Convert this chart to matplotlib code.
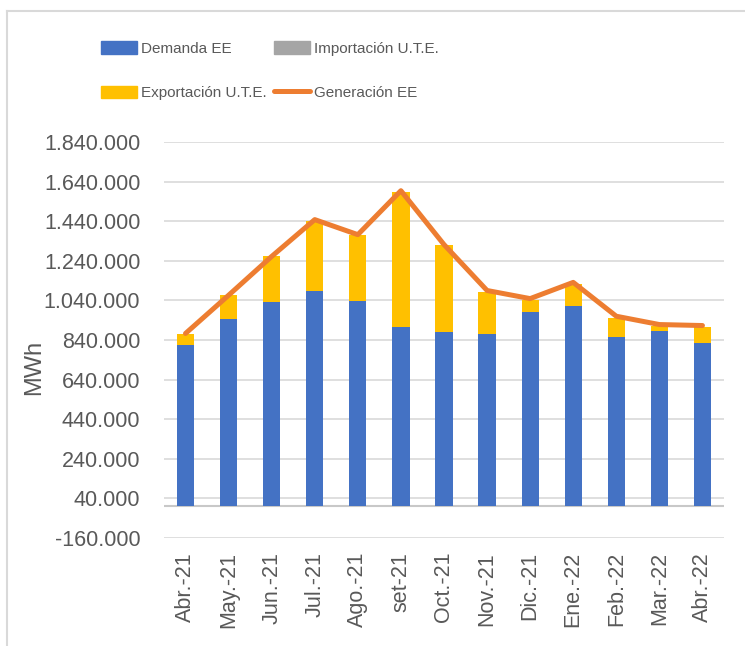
import matplotlib
matplotlib.use("Agg")
import matplotlib.pyplot as plt
from matplotlib.lines import Line2D
from matplotlib.patches import Patch
from matplotlib.ticker import FuncFormatter
import numpy as np

# Monthly energy balance (MWh)
meses = ['Abr.-21', 'May.-21', 'Jun.-21', 'Jul.-21', 'Ago.-21', 'set-21', 'Oct.-21',
         'Nov.-21', 'Dic.-21', 'Ene.-22', 'Feb.-22', 'Mar.-22', 'Abr.-22']
demanda = [817000, 947000, 1030000, 1086000, 1037000, 904000, 879000,
           868000, 980000, 1010000, 854000, 883000, 824000]
importacion = [0, 0, 0, 0, 0, 0, 0, 0, 0, 0, 0, 0, 0]
exportacion = [54000, 119000, 233000, 353000, 332000, 682000, 439000,
               213000, 64000, 113000, 98000, 27000, 82000]
generacion = [873000, 1066000, 1262000, 1448000, 1372000, 1594000, 1322000,
              1090000, 1049000, 1131000, 960000, 918000, 913000]
yticks = [-160000, 40000, 240000, 440000, 640000, 840000, 1040000,
          1240000, 1440000, 1640000, 1840000]

C_DEM = '#4472C4'
C_IMP = '#A5A5A5'
C_EXP = '#FFC000'
C_GEN = '#ED7D31'
TXT = '#595959'
GRID = '#D9D9D9'

fig = plt.figure(figsize=(7.45, 6.46), dpi=100)
ax = fig.add_axes([0.2201, 0.1672, 0.9718 - 0.2201, 0.7802 - 0.1672])

x = np.arange(len(meses))
w = 0.4
ax.bar(x, demanda, w, color=C_DEM, zorder=2)
base = np.array(demanda, dtype=float)
ax.bar(x, importacion, w, bottom=base, color=C_IMP, zorder=2)
base = base + np.array(importacion)
ax.bar(x, exportacion, w, bottom=base, color=C_EXP, zorder=2)
ax.plot(x, generacion, color=C_GEN, lw=3.6, solid_capstyle='round',
        solid_joinstyle='round', zorder=3)

ax.set_xlim(-0.5, len(meses) - 0.5)
ax.set_ylim(-160000, 1840000)
ax.set_yticks(yticks)
ax.yaxis.set_major_formatter(FuncFormatter(lambda v, p: f"{int(v):,}".replace(',', '.')))
ax.grid(axis='y', color=GRID, lw=1.2, zorder=0)
ax.axhline(0, color='#C8C8C8', lw=1.5, zorder=1)
for s in ax.spines.values():
    s.set_visible(False)
ax.set_xticks(x)
ax.set_xticklabels(meses, rotation=90)
ax.tick_params(length=0, labelcolor=TXT, labelsize=15.5)
ax.tick_params(axis='y', pad=17)
ax.tick_params(axis='x', pad=10)
for lab in ax.get_xticklabels() + ax.get_yticklabels():
    lab.set_family('Liberation Sans')
ax.set_ylabel('MWh', fontsize=17, color=TXT, family='Liberation Sans')
ax.yaxis.set_label_coords(-0.2125, 0.43)

handles = [Patch(color=C_DEM), Patch(color=C_EXP), Patch(color=C_IMP),
           Line2D([], [], color=C_GEN, lw=3.6, solid_capstyle='round')]
labels = ['Demanda EE', 'Exportación U.T.E.', 'Importación U.T.E.', 'Generación EE']
fig.legend(handles, labels, ncol=2, loc='upper left', bbox_to_anchor=(0.125, 0.948),
           frameon=False, handlelength=2.35, handleheight=0.9, handletextpad=0.3,
           columnspacing=0.45, labelspacing=1.95, borderpad=0,
           prop={'family': 'Liberation Sans', 'size': 11},
           labelcolor=TXT)

# outer chart border
fig.add_artist(Line2D([7 / 745, 7 / 745], [0, 1 - 11 / 646], color=GRID, lw=1.5,
                      transform=fig.transFigure))
fig.add_artist(Line2D([7 / 745, 1], [1 - 11 / 646, 1 - 11 / 646], color=GRID, lw=1.5,
                      transform=fig.transFigure))

fig.savefig('out.png', dpi=100)
